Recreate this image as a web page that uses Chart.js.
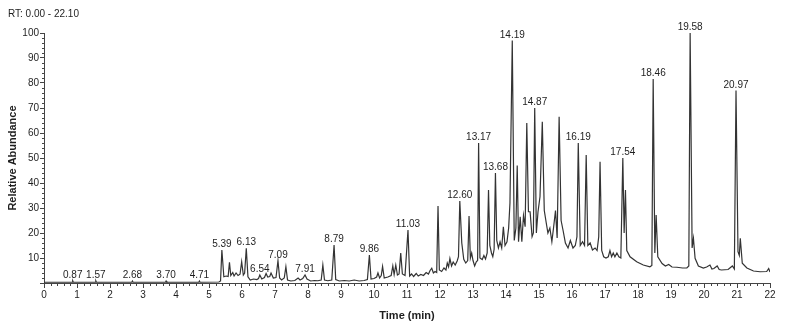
<!DOCTYPE html>
<html>
<head>
<meta charset="utf-8">
<script src="https://cdn.jsdelivr.net/npm/chart.js@4/dist/chart.umd.min.js"></script>
<style>
html,body{margin:0;padding:0;background:#fff;}
canvas{display:block;}
</style>
</head>
<body>
<canvas id="c" width="786" height="329"></canvas>
<script>
// Retention time (min) of each trace point
const retentionTimes = [
  0.00,0.40,0.85,0.87,0.89,1.20,1.55,1.57,1.59,2.10,2.66,2.68,2.70,3.20,3.68,3.70,3.72,4.20,4.69,4.71,4.73,
  5.30,5.35,5.39,5.45,5.52,5.58,5.62,5.66,5.72,5.76,5.82,5.88,5.94,5.99,6.04,6.08,6.13,6.18,6.25,6.35,6.45,6.50,
  6.54,6.60,6.68,6.73,6.78,6.84,6.88,6.95,7.03,7.09,7.14,7.20,7.28,7.33,7.38,7.48,7.60,7.70,7.76,7.84,7.91,7.97,
  8.08,8.20,8.30,8.40,8.45,8.50,8.60,8.72,8.79,8.84,8.95,9.10,9.25,9.40,9.55,9.70,9.80,9.86,9.91,10.00,10.08,
  10.12,10.17,10.22,10.26,10.31,10.42,10.52,10.57,10.61,10.66,10.71,10.76,10.81,10.86,10.94,11.03,11.08,11.14,
  11.20,11.28,11.34,11.42,11.50,11.58,11.65,11.70,11.75,11.80,11.85,11.90,11.94,11.98,12.05,12.12,12.18,12.22,
  12.26,12.30,12.35,12.40,12.46,12.52,12.56,12.60,12.66,12.72,12.78,12.84,12.88,12.92,12.96,13.00,13.05,13.10,
  13.14,13.17,13.21,13.28,13.33,13.38,13.43,13.47,13.51,13.56,13.60,13.64,13.68,13.72,13.77,13.82,13.87,13.92,
  13.97,14.03,14.08,14.12,14.19,14.25,14.30,14.34,14.38,14.43,14.48,14.53,14.58,14.63,14.68,14.73,14.79,14.83,
  14.87,14.92,14.97,15.03,15.10,15.16,15.22,15.27,15.33,15.39,15.44,15.50,15.55,15.61,15.67,15.73,15.80,15.88,
  15.95,16.03,16.10,16.15,16.19,16.25,16.32,16.38,16.43,16.48,16.55,16.62,16.70,16.76,16.81,16.85,16.90,16.96,
  17.03,17.10,17.15,17.20,17.25,17.30,17.36,17.42,17.48,17.54,17.58,17.62,17.66,17.76,17.96,18.16,18.36,18.42,
  18.46,18.51,18.55,18.60,18.73,18.83,18.93,19.03,19.18,19.35,19.48,19.54,19.58,19.64,19.68,19.73,19.83,19.98,
  20.08,20.18,20.24,20.30,20.40,20.46,20.53,20.73,20.86,20.92,20.97,21.03,21.07,21.10,21.16,21.30,21.50,21.70,
  21.90,21.96,22.00
];
// Relative abundance (%) at each retention time
const relativeAbundance = [
  0.3,0.3,0.3,0.9,0.3,0.3,0.3,0.9,0.3,0.3,0.3,0.8,0.3,0.3,0.3,0.8,0.3,0.3,0.3,0.8,0.3,
  0.4,0.8,13.2,2.5,2.8,2.6,8.3,3.0,4.2,2.8,4.0,3.0,3.5,8.5,3.2,4.0,13.9,2.5,1.2,1.6,1.4,1.8,
  3.2,1.6,2.2,3.8,2.4,2.6,4.0,2.0,2.2,8.9,2.0,1.2,2.0,6.5,1.2,0.8,1.0,2.0,1.2,1.8,3.2,1.6,
  0.8,1.0,0.9,1.2,7.2,1.2,0.9,1.2,15.2,1.4,0.8,1.0,0.8,1.2,0.8,1.0,1.4,11.2,1.6,1.8,2.4,
  4.0,2.0,3.0,6.6,2.0,2.4,3.0,6.8,3.4,7.2,3.2,3.6,12.0,3.6,3.0,21.2,2.8,3.6,
  2.6,3.8,2.8,3.4,3.0,4.2,3.6,5.0,5.9,4.0,4.6,4.2,30.8,5.2,4.6,6.0,5.2,8.0,
  6.5,9.8,6.8,8.4,7.2,8.8,10.5,32.8,16.0,9.5,8.0,9.0,26.8,10.0,12.0,9.0,6.8,8.5,
  9.0,56.0,10.0,9.4,11.0,9.6,12.0,37.2,15.0,12.0,10.5,13.5,44.0,17.0,14.0,16.5,14.0,22.5,
  15.0,16.5,22.0,32.0,97.0,17.0,22.0,47.0,16.5,26.5,16.5,27.0,22.5,64.0,28.5,28.5,18.5,20.0,
  70.0,20.0,28.5,34.5,64.5,29.0,24.0,20.0,22.0,16.5,22.0,29.0,18.0,66.5,25.0,21.0,16.0,14.0,
  17.0,14.0,15.0,18.5,56.0,15.0,16.5,15.0,51.2,15.0,16.0,13.2,14.0,13.0,18.5,48.5,13.0,10.5,
  10.0,10.5,13.0,10.5,12.0,10.5,12.0,10.5,10.0,50.0,20.0,37.2,13.0,10.5,8.5,7.2,6.5,7.0,
  81.6,12.0,27.2,10.5,7.8,6.8,7.4,6.4,6.3,6.0,6.0,6.8,100.0,14.0,17.9,9.9,6.8,6.0,
  6.4,7.2,5.6,5.8,6.8,5.4,5.2,5.4,6.8,5.6,77.0,12.5,11.0,17.9,7.9,6.0,4.8,4.5,
  4.6,5.8,4.4
];
// Annotated peaks
const peakLabels = ["0.87","1.57","2.68","3.70","4.71","5.39","6.13","6.54","7.09","7.91","8.79","9.86",
  "11.03","12.60","13.17","13.68","14.19","14.87","16.19","17.54","18.46","19.58","20.97"];
const peakTimes = [0.87,1.57,2.68,3.70,4.71,5.39,6.13,6.54,7.09,7.91,8.79,9.86,
  11.03,12.60,13.17,13.68,14.19,14.87,16.19,17.54,18.46,19.58,20.97];
const peakHeights = [0.9,0.9,0.8,0.8,0.8,13.2,13.9,3.2,8.9,3.2,15.2,11.2,
  21.2,32.8,56.0,44.0,97.0,70.0,56.0,50.0,81.6,100.0,77.0];
const timeRangeText = "RT: 0.00 - 22.10";
const xTitle = "Time (min)";
const yTitle = "Relative Abundance";

const points = retentionTimes.map((t, i) => ({x: t, y: relativeAbundance[i]}));
const AXIS = '#444';
const TXT = '#1e1e1e';

const decor = {
  id: 'decor',
  afterDraw(chart) {
    const {ctx} = chart;
    const x = chart.scales.x, y = chart.scales.y;
    ctx.save();
    // minor ticks
    ctx.strokeStyle = AXIS; ctx.lineWidth = 1;
    ctx.beginPath();
    for (let k = 0; k <= 110; k++) {
      if (k % 5 === 0) continue;
      const px = Math.round(x.getPixelForValue(k / 5)) + 0.5;
      ctx.moveTo(px, y.bottom); ctx.lineTo(px, y.bottom + 3);
    }
    for (let k = 0; k <= 50; k++) {
      if (k % 5 === 0) continue;
      const py = Math.round(y.getPixelForValue(k * 2)) + 0.5;
      ctx.moveTo(x.left, py); ctx.lineTo(x.left - 2, py);
    }
    ctx.stroke();
    // peak labels
    ctx.fillStyle = TXT;
    ctx.font = "10px 'Liberation Sans Narrow', 'Liberation Sans', Arial, sans-serif";
    ctx.textAlign = 'center';
    ctx.textBaseline = 'alphabetic';
    peakLabels.forEach((lab, i) => {
      const px = x.getPixelForValue(peakTimes[i]);
      const py = y.getPixelForValue(peakHeights[i]);
      ctx.fillText(lab, px, py - 3);
    });
    // range text
    ctx.textAlign = 'left';
    ctx.font = "10px 'Liberation Sans', Arial, sans-serif";
    ctx.fillText(timeRangeText, 8, 17);
    ctx.restore();
  }
};

new Chart(document.getElementById('c'), {
  type: 'line',
  data: {
    datasets: [{
      data: points,
      borderColor: '#333',
      borderWidth: 1.2,
      pointRadius: 0,
      tension: 0,
      fill: false
    }]
  },
  options: {
    responsive: false,
    animation: false,
    devicePixelRatio: 1,
    layout: {padding: {top: 33, right: 16, left: 0, bottom: 0}},
    plugins: {legend: {display: false}, tooltip: {enabled: false}},
    scales: {
      x: {
        type: 'linear', min: 0, max: 22,
        afterFit: s => { s.height = 46; },
        ticks: {stepSize: 1, padding: 1, color: TXT, maxRotation: 0, autoSkip: false,
          font: {family: "'Liberation Sans Narrow', 'Liberation Sans', Arial", size: 10}},
        grid: {display: true, drawOnChartArea: false, drawTicks: true, tickLength: 5, color: AXIS},
        border: {display: true, color: AXIS, width: 1},
        title: {display: true, text: xTitle, color: TXT, padding: {top: 0, bottom: 6},
          font: {family: "'Liberation Sans', Arial", size: 11, weight: 'bold'}}
      },
      y: {
        min: 0, max: 100,
        afterFit: s => { s.width = 44; },
        ticks: {stepSize: 10, padding: 1, color: TXT,
          callback: v => v === 0 ? '' : String(v),
          font: {family: "'Liberation Sans', Arial", size: 10}},
        grid: {display: true, drawOnChartArea: false, drawTicks: true, tickLength: 4, color: AXIS},
        border: {display: true, color: AXIS, width: 1},
        title: {display: true, text: yTitle, color: TXT, padding: {top: 6, bottom: 0},
          font: {family: "'Liberation Sans', Arial", size: 11, weight: 'bold'}}
      }
    }
  },
  plugins: [decor]
});
</script>
</body>
</html>
